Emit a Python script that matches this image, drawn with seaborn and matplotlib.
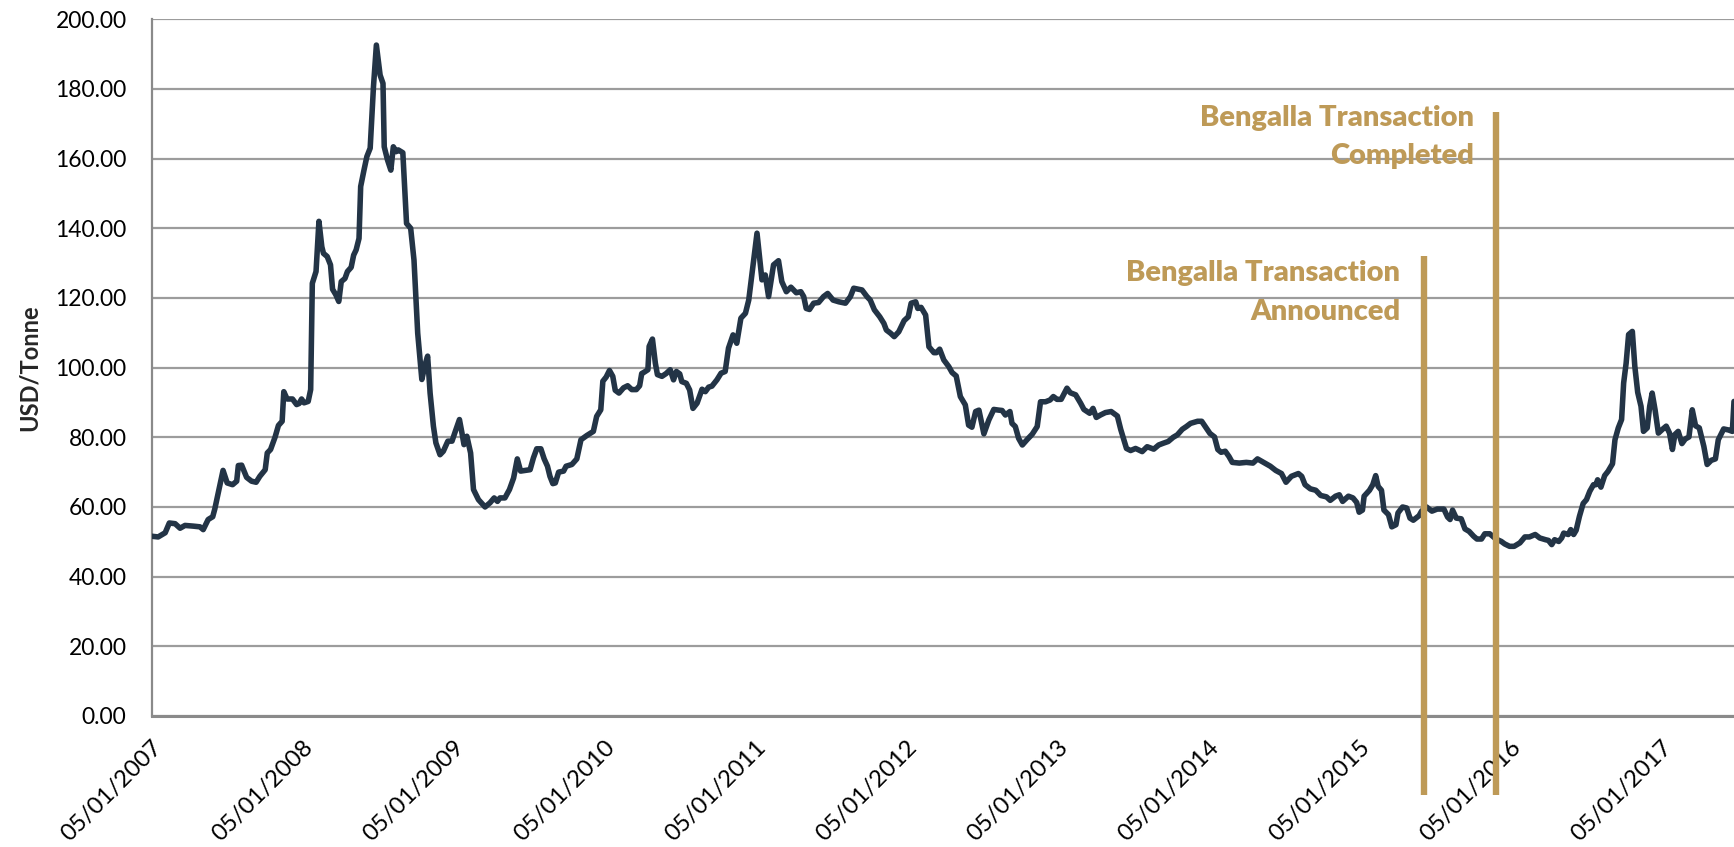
import matplotlib
matplotlib.use("Agg")
import matplotlib.pyplot as plt
import matplotlib.dates as mdates
import seaborn as sns
import pandas as pd

# weekly thermal coal price
dates = [
    "2007-01-05", "2007-01-21", "2007-02-07", "2007-02-17", "2007-03-03", "2007-03-15", "2007-03-27",
    "2007-04-16", "2007-05-02", "2007-05-10", "2007-05-22", "2007-06-02", "2007-06-07", "2007-06-19",
    "2007-06-27", "2007-07-07", "2007-07-20", "2007-07-30", "2007-08-03", "2007-08-11", "2007-08-23",
    "2007-09-04", "2007-09-15", "2007-09-24", "2007-10-07", "2007-10-12", "2007-10-20", "2007-10-31",
    "2007-11-08", "2007-11-17", "2007-11-21", "2007-11-29", "2007-12-12", "2007-12-22", "2007-12-28",
    "2008-01-03", "2008-01-09", "2008-01-19", "2008-01-25", "2008-01-29", "2008-02-07", "2008-02-14",
    "2008-02-21", "2008-02-25", "2008-03-05", "2008-03-13", "2008-03-18", "2008-03-26", "2008-04-02",
    "2008-04-08", "2008-04-17", "2008-04-23", "2008-05-02", "2008-05-08", "2008-05-14", "2008-05-21",
    "2008-05-25", "2008-06-02", "2008-06-09", "2008-06-17", "2008-06-21", "2008-06-25", "2008-07-02",
    "2008-07-11", "2008-07-18", "2008-07-21", "2008-07-29", "2008-08-06", "2008-08-12", "2008-08-19",
    "2008-08-24", "2008-09-04", "2008-09-13", "2008-09-23", "2008-10-01", "2008-10-10", "2008-10-20",
    "2008-10-28", "2008-11-03", "2008-11-09", "2008-11-17", "2008-11-23", "2008-12-03", "2008-12-11",
    "2008-12-22",
    "2009-01-01", "2009-01-09", "2009-01-19", "2009-01-25", "2009-01-30", "2009-02-06", "2009-02-15",
    "2009-02-22", "2009-03-06", "2009-03-22", "2009-04-03", "2009-04-13", "2009-04-21", "2009-04-27",
    "2009-05-09", "2009-05-20", "2009-05-30", "2009-06-08", "2009-06-16", "2009-06-27", "2009-07-09",
    "2009-07-17", "2009-07-25", "2009-08-04", "2009-08-12", "2009-08-20", "2009-08-26", "2009-09-02",
    "2009-09-08", "2009-09-16", "2009-09-28", "2009-10-04", "2009-10-18", "2009-10-30", "2009-11-09",
    "2009-11-23", "2009-12-09", "2009-12-17", "2009-12-27",
    "2010-01-01", "2010-01-09", "2010-01-17", "2010-01-25", "2010-01-31", "2010-02-09", "2010-02-20",
    "2010-03-02", "2010-03-12", "2010-03-23", "2010-03-31", "2010-04-05", "2010-04-11", "2010-04-20",
    "2010-04-23", "2010-05-01", "2010-05-08", "2010-05-13", "2010-05-24", "2010-06-03", "2010-06-13",
    "2010-06-21", "2010-06-28", "2010-07-06", "2010-07-11", "2010-07-22", "2010-07-30", "2010-08-07",
    "2010-08-17", "2010-08-29", "2010-09-06", "2010-09-14", "2010-09-22", "2010-10-04", "2010-10-14",
    "2010-10-24", "2010-11-01", "2010-11-12", "2010-11-21", "2010-12-01", "2010-12-12", "2010-12-20",
    "2010-12-30",
    "2011-01-09", "2011-01-15", "2011-01-21", "2011-01-29", "2011-02-06", "2011-02-13", "2011-02-18",
    "2011-03-02", "2011-03-10", "2011-03-21", "2011-04-01", "2011-04-14", "2011-04-25", "2011-05-02",
    "2011-05-08", "2011-05-16", "2011-05-26", "2011-06-07", "2011-06-19", "2011-06-29", "2011-07-12",
    "2011-07-26", "2011-08-11", "2011-08-23", "2011-08-31", "2011-09-20", "2011-10-02", "2011-10-10",
    "2011-10-20", "2011-11-02", "2011-11-12", "2011-11-18", "2011-11-28", "2011-12-07", "2011-12-18",
    "2011-12-31",
    "2012-01-10", "2012-01-17", "2012-01-28", "2012-02-02", "2012-02-10", "2012-02-21", "2012-02-29",
    "2012-03-12", "2012-03-18", "2012-03-26", "2012-04-05", "2012-04-17", "2012-04-25", "2012-05-05",
    "2012-05-15", "2012-05-27", "2012-06-04", "2012-06-12", "2012-06-21", "2012-06-29", "2012-07-11",
    "2012-07-23", "2012-08-04", "2012-08-16", "2012-08-24", "2012-09-01", "2012-09-12", "2012-09-17",
    "2012-09-25", "2012-10-03", "2012-10-12", "2012-10-24", "2012-11-05", "2012-11-17", "2012-11-25",
    "2012-12-07", "2012-12-18", "2012-12-26",
    "2013-01-04", "2013-01-14", "2013-01-28", "2013-02-05", "2013-02-18", "2013-03-02", "2013-03-10",
    "2013-03-24", "2013-04-01", "2013-04-09", "2013-04-19", "2013-05-01", "2013-05-15", "2013-05-30",
    "2013-06-07", "2013-06-15", "2013-06-21", "2013-07-01", "2013-07-13", "2013-07-29", "2013-08-10",
    "2013-08-26", "2013-09-07", "2013-09-18", "2013-09-30", "2013-10-12", "2013-10-22", "2013-11-03",
    "2013-11-13", "2013-11-23", "2013-12-10", "2013-12-20", "2013-12-31",
    "2014-01-09", "2014-01-20", "2014-01-28", "2014-02-05", "2014-02-15", "2014-02-24", "2014-03-04",
    "2014-03-21", "2014-04-07", "2014-04-23", "2014-05-04", "2014-05-19", "2014-06-04", "2014-06-17",
    "2014-07-01", "2014-07-12", "2014-07-25", "2014-08-11", "2014-08-19", "2014-08-27", "2014-09-09",
    "2014-09-22", "2014-10-04", "2014-10-18", "2014-10-27", "2014-11-09", "2014-11-18", "2014-11-26",
    "2014-12-10", "2014-12-21", "2014-12-30",
    "2015-01-05", "2015-01-13", "2015-01-17", "2015-01-30", "2015-02-07", "2015-02-14", "2015-02-20",
    "2015-02-28", "2015-03-06", "2015-03-17", "2015-03-25", "2015-04-04", "2015-04-09", "2015-04-20",
    "2015-04-30", "2015-05-08", "2015-05-16", "2015-05-30", "2015-06-05", "2015-06-17", "2015-06-30",
    "2015-07-13", "2015-07-29", "2015-08-07", "2015-08-13", "2015-08-19", "2015-08-28", "2015-09-09",
    "2015-09-18", "2015-09-28", "2015-10-09", "2015-10-17", "2015-10-28", "2015-11-05", "2015-11-17",
    "2015-12-02", "2015-12-15", "2015-12-23",
    "2016-01-04", "2016-01-15", "2016-01-29", "2016-02-10", "2016-02-21", "2016-03-06", "2016-03-17",
    "2016-03-31", "2016-04-07", "2016-04-15", "2016-04-22", "2016-05-02", "2016-05-09", "2016-05-14",
    "2016-05-25", "2016-05-31", "2016-06-07", "2016-06-13", "2016-06-21", "2016-06-30", "2016-07-08",
    "2016-07-16", "2016-07-25", "2016-07-31", "2016-08-04", "2016-08-12", "2016-08-21", "2016-08-29",
    "2016-09-09", "2016-09-15", "2016-09-23", "2016-10-01", "2016-10-06", "2016-10-12", "2016-10-18",
    "2016-10-27", "2016-11-02", "2016-11-09", "2016-11-17", "2016-11-23", "2016-12-02", "2016-12-08",
    "2016-12-14", "2016-12-21", "2016-12-29",
    "2017-01-09", "2017-01-17", "2017-01-25", "2017-02-01", "2017-02-07", "2017-02-15", "2017-02-24",
    "2017-03-04", "2017-03-13", "2017-03-21", "2017-03-29", "2017-04-07", "2017-04-18", "2017-04-26",
    "2017-05-06", "2017-05-16", "2017-05-23", "2017-06-05", "2017-06-17", "2017-06-26", "2017-06-30",
]

usd_per_tonne = [
    51.6, 51.4, 52.6, 55.4, 55.2, 53.9, 54.7,
    54.5, 54.3, 53.5, 56.4, 57.2, 59.4, 66.0,
    70.5, 66.9, 66.4, 67.4, 71.9, 72.0, 68.5,
    67.4, 67.1, 68.8, 70.7, 75.5, 76.5, 80.1,
    83.4, 84.6, 93.1, 91.0, 91.0, 89.4, 89.7,
    91.0, 89.9, 90.3, 93.7, 124.2, 127.6, 142.0,
    134.7, 132.8, 131.9, 129.5, 122.5, 120.9, 119.0,
    124.7, 125.6, 127.6, 128.8, 132.3, 133.8, 137.1,
    152.0, 156.7, 160.6, 163.0, 172.1, 180.7, 192.6,
    184.0, 181.6, 163.4, 159.6, 156.7, 163.4, 162.0,
    162.5, 161.7, 141.4, 140.0, 130.9, 109.9, 96.6,
    100.9, 103.3, 92.7, 83.2, 78.4, 75.0, 76.0,
    78.9,
    78.9, 81.7, 85.1, 81.3, 77.9, 80.3, 75.5,
    65.0, 62.1, 60.0, 61.2, 62.6, 61.6, 62.6,
    62.6, 65.0, 68.3, 73.8, 70.3, 70.5, 70.7,
    74.1, 76.7, 76.7, 73.8, 71.7, 68.8, 66.7,
    66.9, 70.0, 70.3, 71.7, 72.2, 73.8, 79.3,
    80.5, 81.7, 86.0, 87.9,
    96.1, 97.3, 99.2, 97.5, 93.5, 92.7, 94.2,
    94.8, 93.7, 93.7, 94.8, 98.3, 98.7, 99.4,
    106.1, 108.2, 101.3, 98.0, 97.5, 98.3, 99.4,
    96.5, 98.9, 98.2, 96.0, 95.5, 93.6, 88.3,
    89.8, 93.8, 93.1, 94.4, 94.7, 96.5, 98.4,
    98.9, 105.6, 109.4, 107.0, 114.2, 115.6, 119.4,
    129.0,
    138.6, 131.9, 125.2, 126.6, 120.4, 125.6, 129.5,
    130.7, 124.7, 121.8, 123.1, 121.5, 121.8, 120.4,
    117.0, 116.7, 118.5, 118.7, 120.4, 121.3, 119.4,
    118.9, 118.5, 120.4, 122.8, 122.3, 120.4, 119.4,
    116.6, 114.6, 112.7, 110.8, 109.9, 108.9, 110.3,
    113.5,
    114.6, 118.5, 118.9, 117.0, 117.3, 115.1, 106.0,
    104.3, 104.3, 105.3, 102.2, 100.3, 98.6, 97.6,
    91.7, 89.3, 83.5, 82.9, 87.4, 87.8, 81.0,
    85.0, 88.0, 87.8, 87.7, 86.4, 87.4, 84.0,
    83.1, 79.7, 77.8, 79.4, 80.9, 83.1, 90.2,
    90.2, 90.7, 91.7,
    90.9, 90.9, 94.1, 92.8, 92.2, 89.8, 88.0,
    86.9, 88.3, 85.7, 86.4, 87.1, 87.4, 86.1,
    82.3, 79.2, 76.8, 76.2, 76.8, 75.9, 77.3,
    76.6, 77.8, 78.3, 78.8, 80.0, 80.7, 82.3,
    83.1, 84.0, 84.6, 84.6, 82.7,
    81.1, 80.1, 76.5, 75.7, 76.0, 74.5, 72.8,
    72.6, 72.8, 72.6, 73.8, 72.8, 71.7, 70.5,
    69.6, 67.1, 68.8, 69.6, 68.8, 66.4, 65.2,
    64.8, 63.3, 62.9, 61.9, 63.1, 63.5, 61.6,
    63.1, 62.6, 61.3,
    58.5, 59.1, 63.1, 64.8, 66.4, 69.0, 65.9,
    64.8, 59.1, 57.8, 54.3, 54.9, 58.3, 60.0,
    59.7, 56.8, 56.2, 57.5, 58.8, 60.0, 58.8,
    59.4, 59.4, 57.1, 56.4, 59.1, 56.8, 56.6,
    53.7, 53.0, 51.6, 50.8, 50.8, 52.3, 52.3,
    50.8, 50.1, 49.4,
    48.7, 48.7, 49.7, 51.4, 51.4, 52.1, 51.1,
    50.6, 50.4, 49.2, 50.6, 50.1, 51.1, 52.5,
    52.1, 53.5, 52.1, 53.3, 57.3, 61.0, 62.1,
    64.5, 66.4, 66.4, 67.8, 65.7, 69.0, 70.2,
    72.4, 79.3, 82.7, 85.1, 95.6, 101.3, 109.5,
    110.4, 100.4, 92.9, 88.9, 81.7, 82.7, 88.9,
    92.7, 87.9, 81.2,
    82.4, 83.2, 81.2, 76.5, 80.8, 81.7, 78.2,
    79.5, 80.1, 87.9, 83.3, 82.7, 77.4, 72.2,
    73.4, 73.8, 79.3, 82.4, 82.1, 81.7, 90.3,
]

tick_dates = ["2007-01-05", "2008-01-05", "2009-01-05", "2010-01-05", "2011-01-05", "2012-01-05",
              "2013-01-05", "2014-01-05", "2015-01-05", "2016-01-05", "2017-01-05"]

announced_date = "2015-06-10"
completed_date = "2015-12-01"
announced_label = "Bengalla Transaction\nAnnounced"
completed_label = "Bengalla Transaction\nCompleted"

df = pd.DataFrame({"date": pd.to_datetime(dates), "price": usd_per_tonne})

sns.set_style("white")
plt.rcParams["font.family"] = ["Lato", "DejaVu Sans"]

navy = "#233446"
gold = "#BE9A57"
grey = "#9c9c9c"

fig = plt.figure(figsize=(17.34, 8.47), dpi=100)
ax = fig.add_axes([0.0874, 0.1547, 0.9126, 0.8225])

sns.lineplot(data=df, x="date", y="price", ax=ax, color=navy, linewidth=4.0, zorder=3)

ax.set_ylim(0, 200)
ax.set_yticks(range(0, 201, 20))
ax.yaxis.set_major_formatter("{x:.2f}")
ax.set_xlim(df["date"].iloc[0], df["date"].iloc[-1])
ticks = pd.to_datetime(tick_dates)
ax.set_xticks(ticks)
ax.set_xticklabels([d.strftime("%d/%m/%Y") for d in ticks], rotation=45,
                   ha="right", va="top", rotation_mode="anchor")
ax.tick_params(axis="both", length=0, labelcolor="black")
ax.tick_params(axis="y", pad=18, labelsize=16.5)
ax.tick_params(axis="x", pad=15, labelsize=17.2)
ax.set_xlabel("")
ax.set_ylabel("")
ax.grid(axis="y", color=grey, linewidth=1.6)
ax.grid(axis="x", visible=False)
ax.set_axisbelow(True)
for s in ["top", "right"]:
    ax.spines[s].set_visible(False)
ax.spines["left"].set_color("#8a8a8a")
ax.spines["left"].set_linewidth(1.6)
ax.spines["bottom"].set_color("#8a8a8a")
ax.spines["bottom"].set_linewidth(2.2)

fig.text(29 / 1734, 1 - 368 / 847, "USD/Tonne", rotation=90, ha="center", va="center",
         fontsize=17, fontweight="bold")

# event markers
a = mdates.date2num(pd.Timestamp(announced_date))
c = mdates.date2num(pd.Timestamp(completed_date))
ax.plot([a, a], [-22.6, 132], color=gold, linewidth=4.6, clip_on=False, zorder=4, solid_capstyle="butt")
ax.plot([c, c], [-22.6, 173.4], color=gold, linewidth=4.6, clip_on=False, zorder=4, solid_capstyle="butt")

ax.text(mdates.date2num(pd.Timestamp("2015-04-14")), 121.5, announced_label, ha="right", va="center",
        color=gold, fontsize=21, fontweight="heavy", linespacing=1.6)
ax.text(mdates.date2num(pd.Timestamp("2015-10-10")), 166.2, completed_label, ha="right", va="center",
        color=gold, fontsize=21, fontweight="heavy", linespacing=1.6)

fig.savefig("out.png", dpi=100)
